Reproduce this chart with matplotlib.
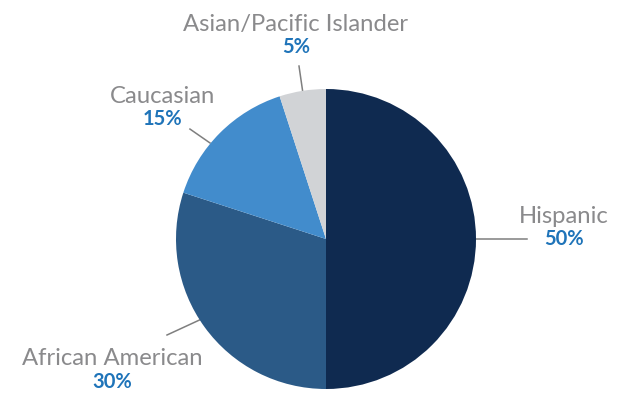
import numpy as np
import matplotlib
matplotlib.use('Agg')
import matplotlib.pyplot as plt

# chart data
groups = ['Hispanic', 'African American', 'Caucasian', 'Asian/Pacific Islander']
shares = [50, 30, 15, 5]
colors = ['#0f2a50', '#2b5a87', '#428ccc', '#d1d3d6']

# label layout (data units, pie radius = 1); y is the baseline of the name
label_pos = [(1.587, 0.107), (-1.427, -0.84), (-1.087, 0.907), (-0.20, 1.387)]
line_start = [(1.0, 0.0), (-0.80, -0.52), (-0.773, 0.64), (-0.156, 0.988)]
line_end = [(1.34, 0.0), (-1.06, -0.64), (-0.907, 0.733), (-0.18, 1.153)]

plt.rcParams['font.family'] = ['Lato', 'DejaVu Sans']

fig = plt.figure(figsize=(6.37, 4.01), dpi=100)
ax = fig.add_axes([0, 0, 1, 1])

wedges, _ = ax.pie(shares, colors=colors, startangle=90, counterclock=False,
                   radius=1.0, wedgeprops=dict(linewidth=0))

for name, pct, (tx, ty), (sx, sy), (lx, ly) in zip(groups, shares, label_pos,
                                                    line_start, line_end):
    ax.plot([sx, lx], [sy, ly], color='#7f7f7f', lw=1.1, zorder=0)
    ax.text(tx, ty, name, ha='center', va='baseline', fontsize=17.2, color='#8a8a8c')
    ax.text(tx, ty - 0.15, f'{pct}%', ha='center', va='baseline', fontsize=14.5,
            fontweight='bold', color='#1f74b9')

ax.set_xlim(-326 / 150, 311 / 150)
ax.set_ylim(-162 / 150, 239 / 150)
ax.axis('off')

fig.savefig('out.png', dpi=100)
